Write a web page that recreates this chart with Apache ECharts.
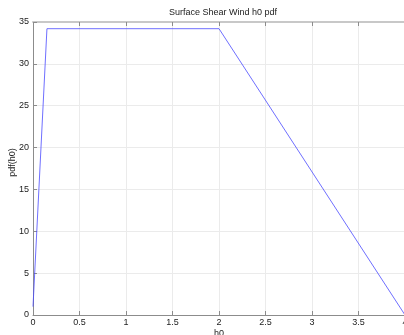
<!DOCTYPE html>
<html><head><meta charset="utf-8">
<script src="https://cdn.jsdelivr.net/npm/echarts@6/dist/echarts.min.js"></script>
<style>html,body{margin:0;padding:0;background:#fff;}#c{width:404px;height:335px;}</style>
</head><body><div id="c"></div>
<script>
const titleText = 'Surface Shear Wind h0 pdf';
const xName = 'h0';
const yName = 'pdf(h0)';
const h0Values = [0, 0.15, 2.0, 4.0];
const pdfValues = [1.0, 34.2, 34.2, 0.0];

const chart = echarts.init(document.getElementById('c'), null, {renderer: 'canvas'});
const font = 'Liberation Sans, Arial, sans-serif';
const axisCommon = {
  axisLine: {show: true, lineStyle: {color: '#8c8c8c', width: 1}},
  axisTick: {show: true, inside: true, length: 4, lineStyle: {color: '#8c8c8c'}},
  axisLabel: {color: '#222', fontSize: 9, fontFamily: font}
};
chart.setOption({
  animation: false,
  backgroundColor: '#fff',
  title: {text: titleText, left: 218, textAlign: 'center', top: 3,
    textStyle: {fontSize: 9, fontWeight: 'normal', color: '#222', fontFamily: font}},
  grid: {left: 33, top: 22, width: 372, height: 293, containLabel: false, outerBoundsMode: 'none'},
  xAxis: [{
    type: 'value', min: 0, max: 4, interval: 0.5, position: 'bottom',
    name: xName, nameLocation: 'middle', nameGap: 14, nameMoveOverlap: false,
    nameTextStyle: {color: '#222', fontSize: 9, fontFamily: font},
    splitLine: {show: true, lineStyle: {color: '#ebebeb', width: 1}},
    ...axisCommon,
    axisLabel: {color: '#222', fontSize: 9, fontFamily: font, margin: 3}
  }, {
    type: 'value', min: 0, max: 4, interval: 0.5, position: 'top',
    axisLine: {show: true, lineStyle: {color: '#c8c8c8', width: 2}},
    axisTick: {show: true, inside: true, length: 4, lineStyle: {color: '#8c8c8c'}},
    axisLabel: {show: false}, splitLine: {show: false}
  }],
  yAxis: [{
    type: 'value', min: 0, max: 35, interval: 5,
    name: yName, nameLocation: 'middle', nameGap: 16, nameMoveOverlap: false,
    nameTextStyle: {color: '#222', fontSize: 9, fontFamily: font, padding: [0, 0, 0, 12]},
    splitLine: {show: true, lineStyle: {color: '#ebebeb', width: 1}},
    ...axisCommon,
    axisLabel: {color: '#222', fontSize: 9, fontFamily: font, margin: 4}
  }],
  series: [{
    type: 'line', xAxisIndex: 0, yAxisIndex: 0,
    data: h0Values.map((x, i) => [x, pdfValues[i]]),
    showSymbol: false, symbol: 'none',
    lineStyle: {color: '#4a4aff', width: 0.8},
    clip: true
  }]
});
</script></body></html>
